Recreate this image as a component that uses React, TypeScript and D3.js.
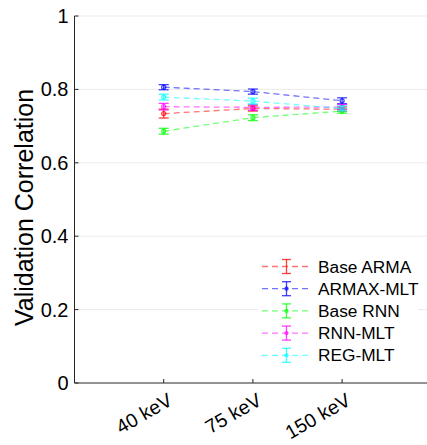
import React from "react";
import * as d3 from "d3";

const categories = ["40 keV", "75 keV", "150 keV"];
const seriesNames = ["Base ARMA", "ARMAX-MLT", "Base RNN", "RNN-MLT", "REG-MLT"];
const seriesColors = ["#ff0000", "#0000ff", "#00ff00", "#ff00ff", "#00ffff"];
const baseArma = [0.734, 0.748, 0.746];
const armaxMlt = [0.806, 0.794, 0.769];
const baseRnn = [0.686, 0.723, 0.741];
const rnnMlt = [0.753, 0.751, 0.752];
const regMlt = [0.779, 0.768, 0.748];
const baseArmaErr = [0.012, 0.007, 0.006];
const armaxMltErr = [0.007, 0.007, 0.008];
const baseRnnErr = [0.008, 0.008, 0.006];
const rnnMltErr = [0.009, 0.008, 0.007];
const regMltErr = [0.008, 0.008, 0.007];
const yTicks = [0, 0.2, 0.4, 0.6, 0.8, 1];

const seriesValues = [baseArma, armaxMlt, baseRnn, rnnMlt, regMlt];
const seriesErrs = [baseArmaErr, armaxMltErr, baseRnnErr, rnnMltErr, regMltErr];

export default function App() {
  const W = 427, H = 445;
  const left = 74.5, top = 16, bottom = 383;
  const x = d3.scaleLinear().domain([0, 4]).range([left, left + 4 * 89.2]);
  const y = d3.scaleLinear().domain([0, 1]).range([bottom, top]);
  const font = "Arial, 'Liberation Sans', Helvetica, sans-serif";
  const line = d3.line<number>().x((_, i) => x(i + 1)).y((v) => y(v));
  const capW = 5;

  const legX = 262, legY0 = 266.5, legDY = 22.2;

  return (
    <svg width={W} height={H} style={{ position: "absolute", left: 0, top: 0 }} fontFamily={font}>
      <rect width={W} height={H} fill="#fff" />
      {yTicks.slice(1).map((t) => (
        <line key={t} x1={left} x2={W} y1={y(t)} y2={y(t)} stroke="#ebebeb" strokeWidth={1} />
      ))}
      {seriesValues.map((vals, si) => (
        <g key={si}>
          <path d={line(vals) || ""} fill="none" stroke={seriesColors[si]} strokeOpacity={0.55} strokeWidth={1.3} strokeDasharray="6,4" />
          {vals.map((v, i) => {
            const cx = x(i + 1);
            const e = seriesErrs[si][i];
            return (
              <g key={i} stroke={seriesColors[si]} strokeOpacity={0.75} strokeWidth={1.3} fill="none">
                <line x1={cx} x2={cx} y1={y(v - e)} y2={y(v + e)} />
                <line x1={cx - capW} x2={cx + capW} y1={y(v - e)} y2={y(v - e)} />
                <line x1={cx - capW} x2={cx + capW} y1={y(v + e)} y2={y(v + e)} />
                <circle cx={cx} cy={y(v)} r={2} />
              </g>
            );
          })}
        </g>
      ))}
      {/* axes */}
      <line x1={left} x2={left} y1={top} y2={bottom} stroke="#262626" strokeWidth={1} />
      <line x1={left} x2={W} y1={bottom} y2={bottom} stroke="#262626" strokeWidth={1} />
      {yTicks.map((t) => (
        <g key={t}>
          <line x1={left} x2={left + 4} y1={y(t)} y2={y(t)} stroke="#262626" />
          <text x={left - 6} y={y(t)} dy="0.35em" textAnchor="end" fontSize={20} fill="#000">
            {t === 0 || t === 1 ? String(t) : t.toFixed(1)}
          </text>
        </g>
      ))}
      {categories.map((c, i) => (
        <g key={c}>
          <line x1={x(i + 1)} x2={x(i + 1)} y1={bottom} y2={bottom - 4} stroke="#262626" />
          <text transform={`translate(${x(i + 1) + 10},${bottom + 21}) rotate(-30)`} textAnchor="end" fontSize={19.5} fill="#000">
            {c}
          </text>
        </g>
      ))}
      <text transform={`translate(33,${(top + bottom) / 2 + 8}) rotate(-90)`} textAnchor="middle" fontSize={25} fill="#000">
        Validation Correlation
      </text>
      {/* legend */}
      <rect x={258} y={255} width={160} height={112} fill="#fff" />
      {seriesNames.map((n, si) => {
        const ly = legY0 + si * legDY;
        const c = seriesColors[si];
        return (
          <g key={n}>
            <line x1={legX} x2={legX + 48} y1={ly} y2={ly} stroke={c} strokeOpacity={0.55} strokeWidth={1.3} strokeDasharray="6,4" />
            <g stroke={c} strokeOpacity={0.75} strokeWidth={1.3} fill="none">
              <line x1={legX + 24.5} x2={legX + 24.5} y1={ly - 7} y2={ly + 7} />
              <line x1={legX + 20} x2={legX + 29} y1={ly - 7} y2={ly - 7} />
              <line x1={legX + 20} x2={legX + 29} y1={ly + 7} y2={ly + 7} />
              {si > 0 && <circle cx={legX + 24.5} cy={ly} r={1.5} />}
            </g>
            <text x={318} y={ly} dy="0.35em" fontSize={17.3} fill="#000">{n}</text>
          </g>
        );
      })}
    </svg>
  );
}
